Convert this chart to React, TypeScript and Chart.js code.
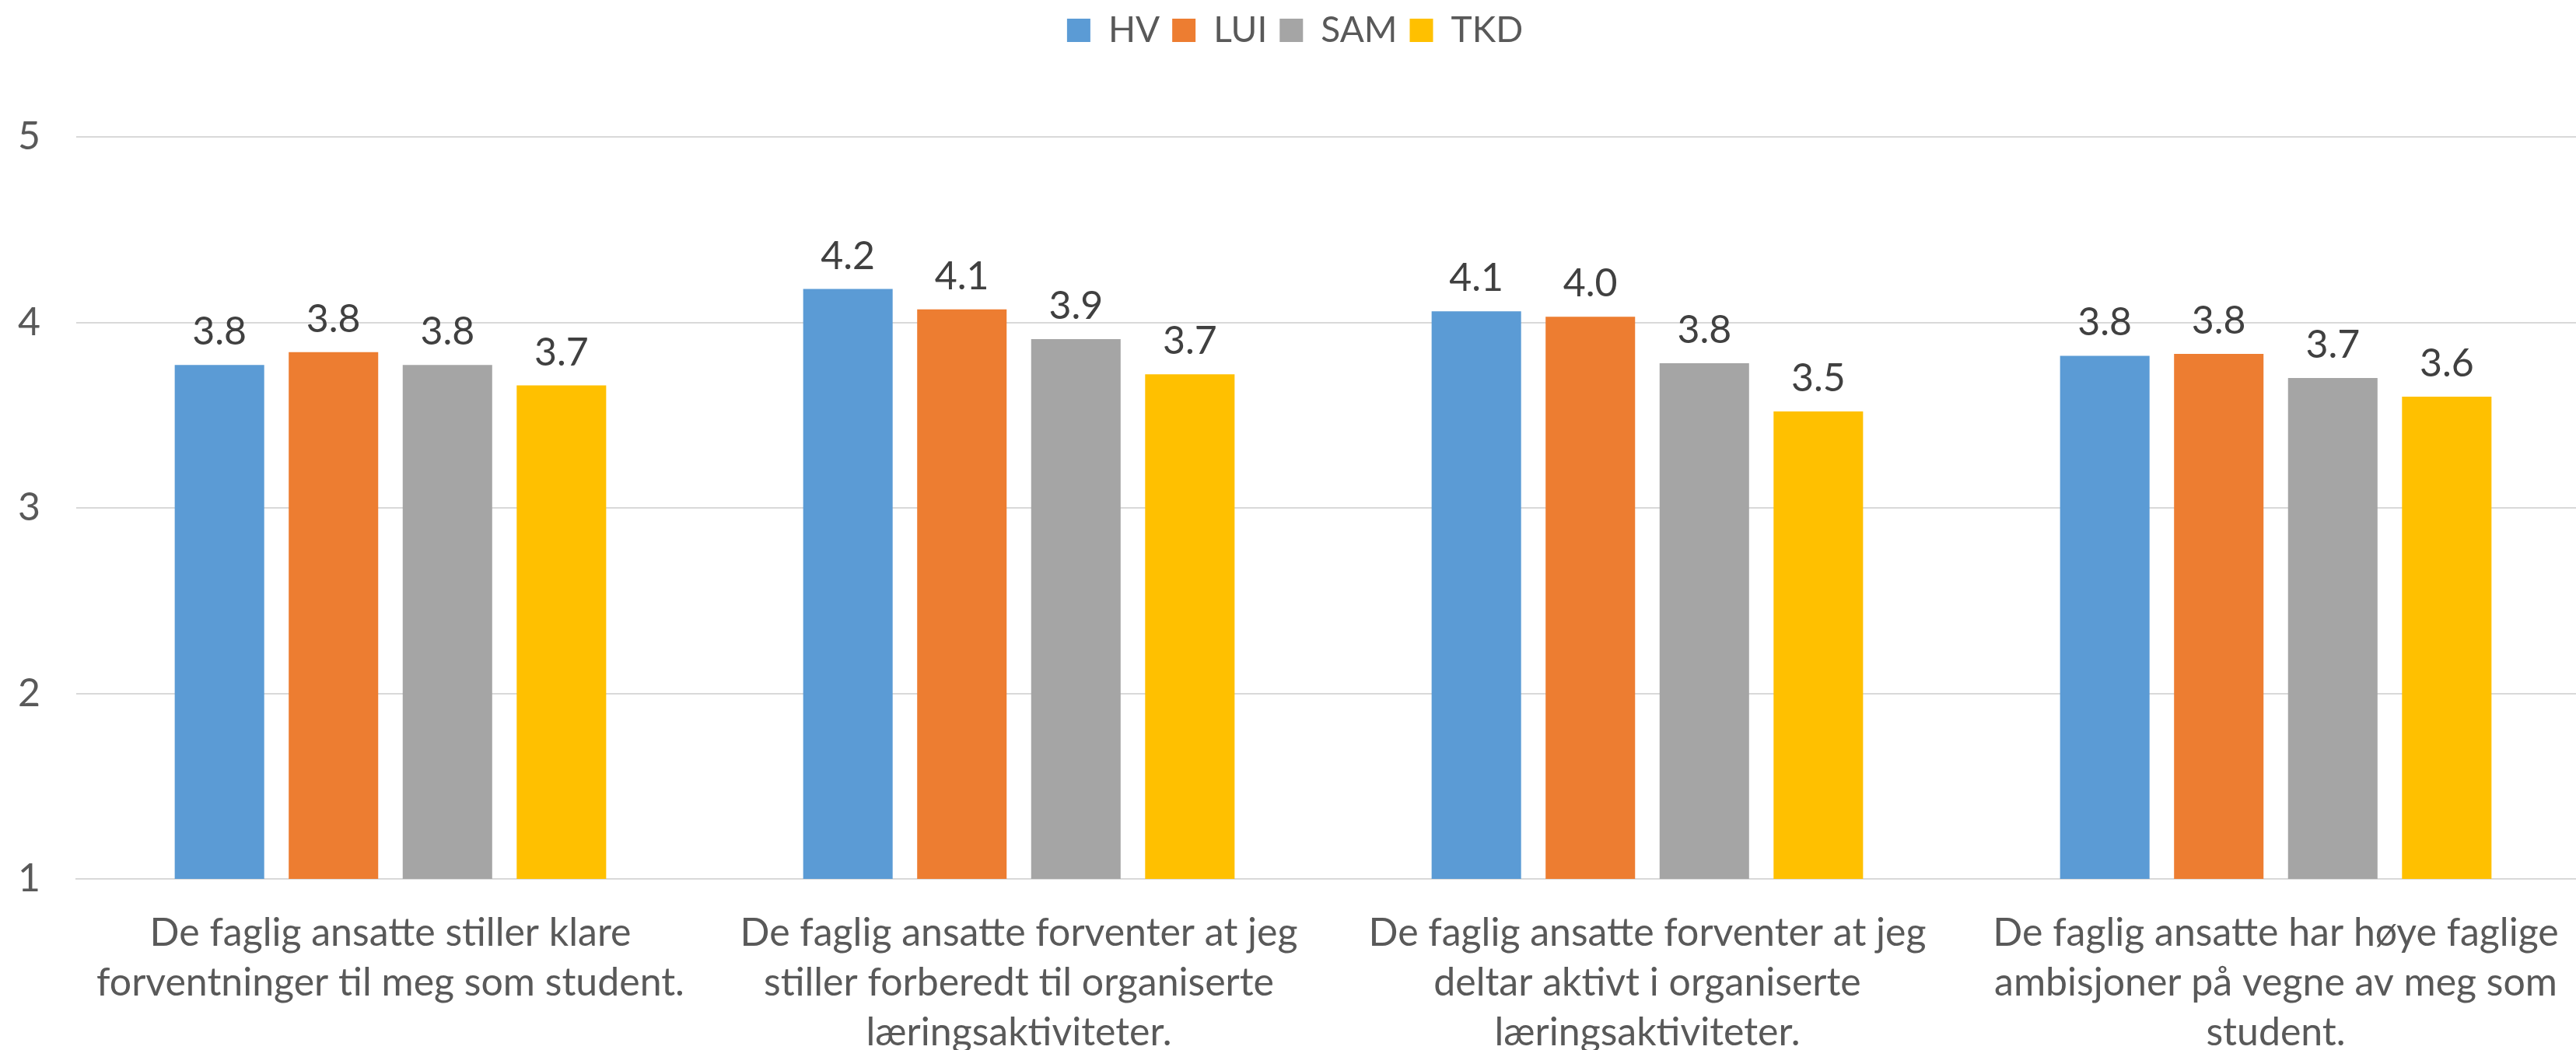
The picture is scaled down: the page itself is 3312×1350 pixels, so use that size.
import React, { useEffect, useRef } from "react";
import { Chart, registerables } from "chart.js";

Chart.register(...registerables);

const categories: string[][] = [
  ["De faglig ansatte stiller klare", "forventninger til meg som student."],
  ["De faglig ansatte forventer at jeg", "stiller forberedt til organiserte", "læringsaktiviteter."],
  ["De faglig ansatte forventer at jeg", "deltar aktivt i organiserte", "læringsaktiviteter."],
  ["De faglig ansatte har høye faglige", "ambisjoner på vegne av meg som", "student."],
];

const seriesNames = ["HV", "LUI", "SAM", "TKD"];
const hvValues = [3.77, 4.18, 4.06, 3.82];
const luiValues = [3.84, 4.07, 4.03, 3.83];
const samValues = [3.77, 3.91, 3.78, 3.7];
const tkdValues = [3.66, 3.72, 3.52, 3.6];
const seriesColors = ["#5B9BD5", "#ED7D31", "#A5A5A5", "#FFC000"];
const yTicks = [1, 2, 3, 4, 5];

const FONT = "Lato, 'Open Sans', sans-serif";

const valueLabelPlugin = {
  id: "valueLabels",
  afterDatasetsDraw(chart: any) {
    const ctx = chart.ctx;
    ctx.save();
    ctx.font = `50px ${FONT}`;
    ctx.fillStyle = "#404040";
    ctx.textAlign = "center";
    ctx.textBaseline = "alphabetic";
    chart.data.datasets.forEach((ds: any, i: number) => {
      const meta = chart.getDatasetMeta(i);
      meta.data.forEach((bar: any, j: number) => {
        const v = ds.data[j] as number;
        ctx.fillText(v.toFixed(1), bar.x, bar.y - 26);
      });
    });
    ctx.restore();
  },
};

export default function App() {
  const ref = useRef<HTMLCanvasElement | null>(null);
  useEffect(() => {
    document.body.style.margin = "0";
    document.body.style.overflow = "hidden";
    if (!ref.current) return;
    const values = [hvValues, luiValues, samValues, tkdValues];
    const chart = new Chart(ref.current, {
      type: "bar",
      data: {
        labels: categories,
        datasets: seriesNames.map((name, i) => ({
          label: name,
          data: values[i],
          backgroundColor: seriesColors[i],
          borderWidth: 0,
          categoryPercentage: 0.7255,
          barPercentage: 0.785,
        })),
      },
      options: {
        responsive: false,
        animation: false,
        devicePixelRatio: 1,
        layout: { padding: 0 },
        plugins: {
          legend: {
            position: "top",
            weight: 3000,
            labels: {
              boxWidth: 30,
              boxHeight: 30,
              padding: 16,
              color: "#595959",
              font: { family: FONT, size: 46 },
            },
          } as any,
          title: {
            display: true,
            text: " ",
            font: { size: 1, lineHeight: 1 },
            padding: { top: 0, bottom: 103 },
          },
          tooltip: { enabled: false },
        },
        scales: {
          x: {
            grid: { display: false, drawTicks: false },
            border: { display: true, color: "#D9D9D9", width: 2 },
            ticks: {
              color: "#595959",
              font: { family: FONT, size: 50, lineHeight: "64px" as any },
              padding: 38,
              autoSkip: false,
              maxRotation: 0,
              minRotation: 0,
            },
            afterFit: (scale: any) => {
              scale.height = 270;
            },
          },
          y: {
            min: 1,
            max: 5,
            afterBuildTicks: (scale: any) => {
              scale.ticks = yTicks.map((v) => ({ value: v }));
            },
            grid: { color: "#D9D9D9", lineWidth: 2, drawTicks: false },
            border: { display: false },
            ticks: {
              color: "#595959",
              font: { family: FONT, size: 50 },
              padding: 46,
            },
            afterFit: (scale: any) => {
              scale.width = 98;
            },
          },
        },
      },
      plugins: [valueLabelPlugin],
    });
    return () => chart.destroy();
  }, []);
  return (
    <div style={{ width: 3312, height: 1350, overflow: "hidden", background: "#fff" }}>
      <canvas ref={ref} width={3330} height={1400} style={{ display: "block" }} />
    </div>
  );
}
